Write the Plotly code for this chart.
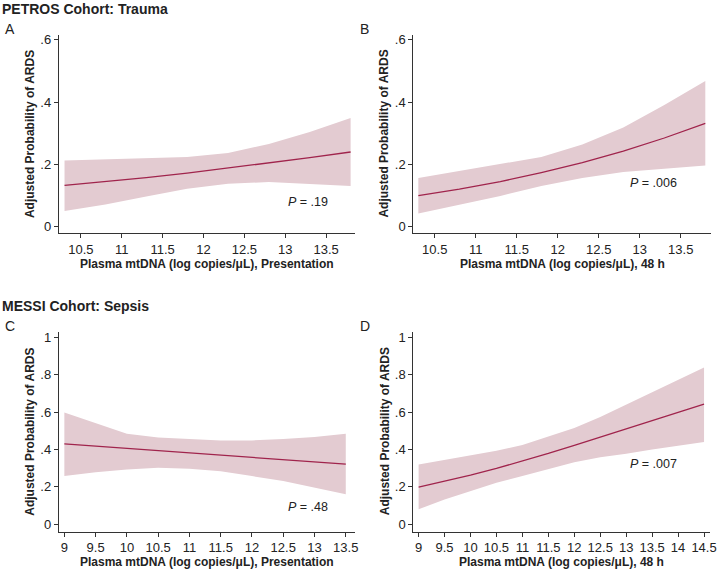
import plotly.graph_objects as go

W, H = 723, 571

# ---------------- data ----------------
x_ab = [10.3, 10.8, 11.3, 11.8, 12.3, 12.8, 13.3, 13.8]
a_fit = [0.133, 0.145, 0.158, 0.172, 0.188, 0.204, 0.222, 0.240]
a_hi = [0.213, 0.216, 0.219, 0.224, 0.237, 0.266, 0.304, 0.349]
a_lo = [0.051, 0.072, 0.097, 0.122, 0.138, 0.144, 0.138, 0.131]

b_fit = [0.100, 0.121, 0.145, 0.174, 0.206, 0.243, 0.285, 0.332]
b_hi = [0.157, 0.179, 0.200, 0.224, 0.264, 0.319, 0.391, 0.468]
b_lo = [0.043, 0.070, 0.099, 0.131, 0.157, 0.176, 0.187, 0.197]

x_c = [9, 9.5, 10, 10.5, 11, 11.5, 12, 12.5, 13, 13.5]
c_fit = [0.430, 0.418, 0.406, 0.394, 0.382, 0.370, 0.358, 0.346, 0.334, 0.322]
c_hi = [0.599, 0.540, 0.485, 0.465, 0.456, 0.449, 0.449, 0.456, 0.467, 0.485]
c_lo = [0.258, 0.279, 0.293, 0.302, 0.297, 0.284, 0.258, 0.231, 0.195, 0.160]

x_d = [9, 9.5, 10, 10.5, 11, 11.5, 12, 12.5, 13, 13.5, 14, 14.5]
d_fit = [0.199, 0.229, 0.263, 0.299, 0.338, 0.379, 0.423, 0.467, 0.512, 0.557, 0.601, 0.643]
d_hi = [0.320, 0.343, 0.367, 0.393, 0.425, 0.468, 0.515, 0.574, 0.640, 0.710, 0.775, 0.840]
d_lo = [0.080, 0.133, 0.178, 0.222, 0.258, 0.297, 0.332, 0.359, 0.378, 0.400, 0.421, 0.440]

xt_ab = [10.5, 11, 11.5, 12, 12.5, 13, 13.5]
xt_ab_lab = ["10.5", "11", "11.5", "12", "12.5", "13", "13.5"]
xt_c = [9, 9.5, 10, 10.5, 11, 11.5, 12, 12.5, 13, 13.5]
xt_c_lab = ["9", "9.5", "10", "10.5", "11", "11.5", "12", "12.5", "13", "13.5"]
xt_d = [9, 9.5, 10, 10.5, 11, 11.5, 12, 12.5, 13, 13.5, 14, 14.5]
xt_d_lab = ["9", "9.5", "10", "10.5", "11", "11.5", "12", "12.5", "13", "13.5", "14", "14.5"]
yt_ab = [0, 0.2, 0.4, 0.6]
yt_ab_lab = ["0", ".2", ".4", ".6"]
yt_cd = [0, 0.2, 0.4, 0.6, 0.8, 1.0]
yt_cd_lab = ["0", ".2", ".4", ".6", ".8", "1"]

x_titles = ["Plasma mtDNA (log copies/μL), Presentation", "Plasma mtDNA (log copies/μL), 48 h",
            "Plasma mtDNA (log copies/μL), Presentation", "Plasma mtDNA (log copies/μL), 48 h"]
y_title = "Adjusted Probability of ARDS"
p_texts = ["<i>P</i> = .19", "<i>P</i> = .006", "<i>P</i> = .48", "<i>P</i> = .007"]
p_pos = [(13.28, 0.080), (13.17, 0.141), (12.89, 0.092), (13.53, 0.320)]
letters = ["A", "B", "C", "D"]

FILL = "#e3cbd1"
LINE = "#a0244c"
AX = "#333333"
FONT = "Liberation Sans, Arial, Helvetica, sans-serif"

# pixel layout of panels: (left, right, top, bottom)
boxes = [(59.3, 358, 33, 232.5), (417.3, 718, 33, 232.5),
         (59.3, 358, 331.7, 532.3), (417.3, 716.7, 331.7, 532.3)]
xranges = [[10.229, 13.848], [10.238, 13.87], [8.91, 13.64], [8.897, 14.61]]
yranges = [[-0.0207, 0.616], [-0.0207, 0.616], [-0.039, 1.03], [-0.039, 1.03]]

panels = [(x_ab, a_fit, a_hi, a_lo), (x_ab, b_fit, b_hi, b_lo),
          (x_c, c_fit, c_hi, c_lo), (x_d, d_fit, d_hi, d_lo)]
xticks = [(xt_ab, xt_ab_lab), (xt_ab, xt_ab_lab), (xt_c, xt_c_lab), (xt_d, xt_d_lab)]
yticks = [(yt_ab, yt_ab_lab), (yt_ab, yt_ab_lab), (yt_cd, yt_cd_lab), (yt_cd, yt_cd_lab)]

fig = go.Figure()
layout = dict(width=W, height=H, margin=dict(l=0, r=0, t=0, b=0),
              paper_bgcolor="white", plot_bgcolor="white", showlegend=False,
              font=dict(family=FONT, size=12, color="#222222"))
annotations = []

for i, (xs, fit, hi, lo) in enumerate(panels):
    sfx = "" if i == 0 else str(i + 1)
    xa, ya = "x" + sfx, "y" + sfx
    l, r, t, b = boxes[i]
    fig.add_trace(go.Scatter(x=xs + xs[::-1], y=hi + lo[::-1], fill="toself",
                             fillcolor=FILL, line=dict(width=0), mode="lines",
                             hoverinfo="skip", xaxis=xa, yaxis=ya))
    fig.add_trace(go.Scatter(x=xs, y=fit, mode="lines", line=dict(color=LINE, width=1.3),
                             xaxis=xa, yaxis=ya))
    layout["xaxis" + sfx] = dict(domain=[l / W, r / W], range=xranges[i], anchor=ya,
                                 showgrid=False, zeroline=False, showline=True,
                                 linecolor=AX, linewidth=1, ticks="outside", ticklen=4,
                                 tickcolor=AX, tickvals=xticks[i][0], ticktext=xticks[i][1],
                                 tickfont=dict(size=13, color="#222222"))
    layout["yaxis" + sfx] = dict(domain=[1 - b / H, 1 - t / H], range=yranges[i], anchor=xa,
                                 showgrid=False, zeroline=False, showline=True,
                                 linecolor=AX, linewidth=1, ticks="outside", ticklen=4,
                                 tickcolor=AX, tickvals=yticks[i][0], ticktext=yticks[i][1],
                                 tickfont=dict(size=13, color="#222222"))
    # x title
    annotations.append(dict(x=(l + r) / 2 / W, y=1 - (b + 31) / H, xref="paper", yref="paper",
                            text="<b>" + x_titles[i] + "</b>", showarrow=False,
                            font=dict(size=12, color="#222222"), xanchor="center", yanchor="middle"))
    # y title
    annotations.append(dict(x=(l - 29) / W, y=1 - (t + b) / 2 / H, xref="paper", yref="paper",
                            text="<b>" + y_title + "</b>", showarrow=False, textangle=-90,
                            font=dict(size=12, color="#222222"), xanchor="center", yanchor="middle"))
    # panel letter
    annotations.append(dict(x=(l - 56) / W, y=1 - (t - 6) / H, xref="paper", yref="paper",
                            text=letters[i], showarrow=False,
                            font=dict(size=14, color="#222222"), xanchor="left", yanchor="middle"))
    # P value
    annotations.append(dict(x=p_pos[i][0], y=p_pos[i][1], xref=xa, yref=ya,
                            text=p_texts[i], showarrow=False,
                            font=dict(size=12.5, color="#222222"), xanchor="center", yanchor="middle"))

annotations.append(dict(x=0, y=1 - 7 / H, xref="paper", yref="paper",
                        text="<b>PETROS Cohort: Trauma</b>", showarrow=False,
                        font=dict(size=14, color="#222222"), xanchor="left", yanchor="middle"))
annotations.append(dict(x=0, y=1 - 306 / H, xref="paper", yref="paper",
                        text="<b>MESSI Cohort: Sepsis</b>", showarrow=False,
                        font=dict(size=14, color="#222222"), xanchor="left", yanchor="middle"))

layout["annotations"] = annotations
fig.update_layout(**layout)
fig.write_html("out.html", config={"displayModeBar": False},
               post_script="document.body.style.margin='0';document.body.style.overflow='hidden';")
